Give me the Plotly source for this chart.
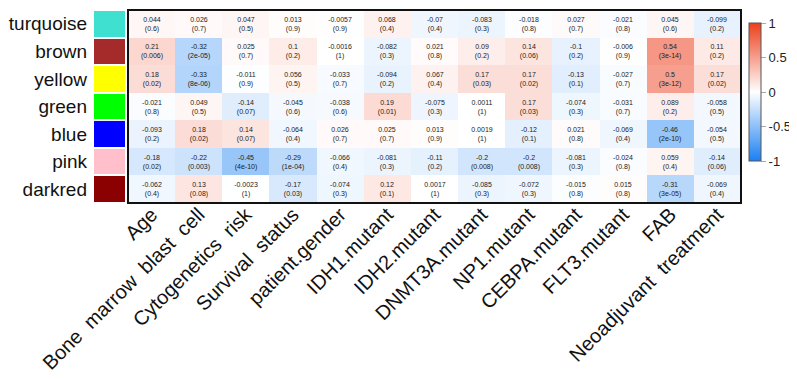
import plotly.graph_objects as go

modules = ["turquoise", "brown", "yellow", "green", "blue", "pink", "darkred"]
module_colors = ["#40E0D0", "#A52A2A", "#FFFF00", "#00FF00", "#0000FF", "#FFC0CB", "#8B0000"]
S = "\u00a0 "
traits = ["Age", f"Bone{S}marrow{S}blast{S}cell", f"Cytogenetics{S}risk", f"Survival{S}status",
          "patient.gender", "IDH1.mutant", "IDH2.mutant", "DNMT3A.mutant", "NP1.mutant",
          "CEBPA.mutant", "FLT3.mutant", "FAB", f"Neoadjuvant{S}treatment"]

corr = [
    [0.044, 0.026, 0.047, 0.013, -0.0057, 0.068, -0.07, -0.083, -0.018, 0.027, -0.021, 0.045, -0.099],
    [0.21, -0.32, 0.025, 0.1, -0.0016, -0.082, 0.021, 0.09, 0.14, -0.1, -0.006, 0.54, 0.11],
    [0.18, -0.33, -0.011, 0.056, -0.033, -0.094, 0.067, 0.17, 0.17, -0.13, -0.027, 0.5, 0.17],
    [-0.021, 0.049, -0.14, -0.045, -0.038, 0.19, -0.075, 0.0011, 0.17, -0.074, -0.031, 0.089, -0.058],
    [-0.093, 0.18, 0.14, -0.064, 0.026, 0.025, 0.013, 0.0019, -0.12, 0.021, -0.069, -0.46, -0.054],
    [-0.18, -0.22, -0.45, -0.29, -0.066, -0.081, -0.11, -0.2, -0.2, -0.081, -0.024, 0.059, -0.14],
    [-0.062, 0.13, -0.0023, -0.17, -0.074, 0.12, 0.0017, -0.085, -0.072, -0.015, 0.015, -0.31, -0.069],
]
pvals = [
    ["0.6", "0.7", "0.5", "0.9", "0.9", "0.4", "0.4", "0.3", "0.8", "0.7", "0.8", "0.6", "0.2"],
    ["0.006", "2e-05", "0.7", "0.2", "1", "0.3", "0.8", "0.2", "0.06", "0.2", "0.9", "3e-14", "0.2"],
    ["0.02", "8e-06", "0.9", "0.5", "0.7", "0.2", "0.4", "0.03", "0.02", "0.1", "0.7", "3e-12", "0.02"],
    ["0.8", "0.5", "0.07", "0.6", "0.6", "0.01", "0.3", "1", "0.03", "0.3", "0.7", "0.2", "0.5"],
    ["0.2", "0.02", "0.07", "0.4", "0.7", "0.7", "0.9", "1", "0.1", "0.8", "0.4", "2e-10", "0.5"],
    ["0.02", "0.003", "4e-10", "1e-04", "0.4", "0.3", "0.2", "0.008", "0.008", "0.3", "0.8", "0.4", "0.06"],
    ["0.4", "0.08", "1", "0.03", "0.3", "0.1", "1", "0.3", "0.3", "0.8", "0.8", "3e-05", "0.4"],
]
cbar_ticks = [-1, -0.5, 0, 0.5, 1]

text = [[f"{c:g}<br>({p})" for c, p in zip(rc, rp)] for rc, rp in zip(corr, pvals)]

fig = go.Figure()

# module colour swatches
n = len(modules)
swatch_scale = []
for i, c in enumerate(module_colors):
    swatch_scale.append([i / n, c])
    swatch_scale.append([(i + 1) / n, c])
fig.add_trace(go.Heatmap(
    z=[[i] for i in range(n)], x=["m"], y=modules,
    colorscale=swatch_scale, zmin=-0.5, zmax=n - 0.5, showscale=False,
    ygap=2, hoverinfo="skip", xaxis="x2", yaxis="y",
))

# main heatmap
fig.add_trace(go.Heatmap(
    z=corr, x=traits, y=modules, text=text, texttemplate="%{text}",
    textfont=dict(size=7, color="#222222", family="Arial, Liberation Sans"),
    colorscale=[[0, "#1a80f2"], [0.5, "#ffffff"], [1, "#ec3f1c"]],
    zmin=-1, zmax=1, xaxis="x", yaxis="y",
    colorbar=dict(
        x=741 / 797, xanchor="left", thickness=12, len=138 / 193,
        y=(195 - 84) / 193, yanchor="middle", xpad=0, ypad=0,
        tickvals=cbar_ticks, ticktext=[f"{t:g}" for t in cbar_ticks],
        ticks="outside", ticklen=5, tickcolor="#aaaaaa",
        tickfont=dict(size=13, color="#222222", family="Arial, Liberation Sans"),
        outlinewidth=1, outlinecolor="#555555",
    ),
))

fig.update_layout(
    width=797, height=379,
    margin=dict(l=0, r=0, t=2, b=184, autoexpand=False),
    plot_bgcolor="white", paper_bgcolor="white",
    font=dict(family="Arial, Liberation Sans", color="#111111"),
    xaxis=dict(domain=[120 / 797, 733 / 797], tickangle=-45, showgrid=False,
               tickfont=dict(size=20), ticks="", anchor="y", automargin=False,
               ticklabelstandoff=-5),
    xaxis2=dict(domain=[86 / 797, 117 / 797], showticklabels=False, showgrid=False,
                anchor="y", automargin=False),
    yaxis=dict(autorange="reversed", anchor="x2", showgrid=False, ticks="",
               tickfont=dict(size=19), ticklabelstandoff=6, automargin=False),
    showlegend=False,
)
fig.add_shape(type="rect", xref="x domain", yref="y domain", x0=0, x1=1, y0=0, y1=1,
              line=dict(color="#111111", width=2))

fig.write_html("out.html")
